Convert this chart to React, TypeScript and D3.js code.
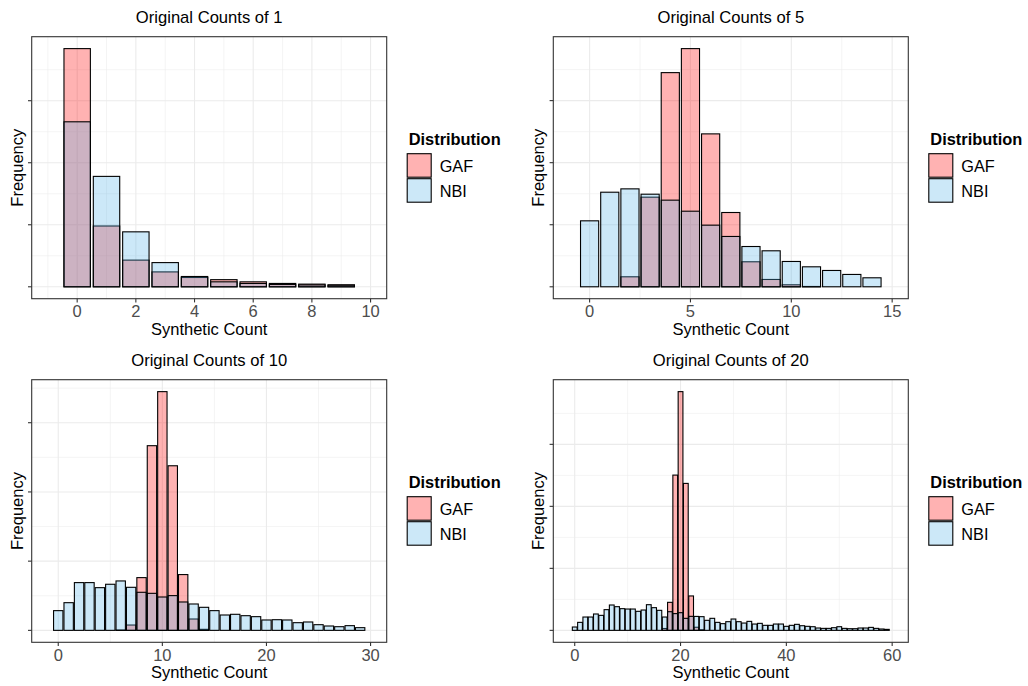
import React from "react";
import * as d3 from "d3";

// ---- Data (heights in units of one major y-tick) ----
const titles = ["Original Counts of 1", "Original Counts of 5", "Original Counts of 10", "Original Counts of 20"];
const seriesNames = ["GAF", "NBI"];

const gaf1 = [3.84, 0.98, 0.43, 0.24, 0.15, 0.115, 0.08, 0.054, 0.043, 0.032];
const nbi1 = [2.66, 1.78, 0.886, 0.39, 0.166, 0.08, 0.054, 0.038, 0.03, 0.025];

const gaf5 = [0, 0, 0.161, 1.444, 3.451, 3.838, 2.464, 1.197, 0.403, 0.118, 0.032, 0.005, 0, 0, 0];
const nbi5 = [1.063, 1.524, 1.578, 1.492, 1.396, 1.218, 0.993, 0.811, 0.649, 0.58, 0.408, 0.322, 0.263, 0.199, 0.145];

const gaf10 = [0, 0, 0, 0, 0, 0, 0.005, 0.077, 0.762, 2.668, 3.449, 2.378, 0.806, 0.164, 0.015,
  0, 0, 0, 0, 0, 0, 0, 0, 0, 0, 0, 0, 0, 0, 0];
const nbi10 = [0.285, 0.4, 0.69, 0.69, 0.617, 0.666, 0.714, 0.622, 0.55, 0.535, 0.482, 0.502, 0.41, 0.381, 0.333,
  0.285, 0.222, 0.232, 0.212, 0.198, 0.15, 0.154, 0.15, 0.111, 0.121, 0.082, 0.063, 0.053, 0.068, 0.039];

const gaf20 = [0, 0, 0, 0, 0, 0, 0, 0, 0, 0, 0, 0, 0, 0, 0, 0, 0, 0.03, 0.452, 2.504, 3.85, 2.37, 0.555, 0.05, 0.01,
  0, 0, 0, 0, 0, 0, 0, 0, 0, 0, 0, 0, 0, 0, 0, 0, 0, 0, 0, 0, 0, 0, 0, 0, 0, 0, 0, 0, 0, 0, 0, 0, 0, 0, 0];
const nbi20 = [0.054, 0.129, 0.215, 0.215, 0.264, 0.242, 0.334, 0.409, 0.382, 0.35,
  0.344, 0.344, 0.307, 0.328, 0.414, 0.366, 0.323, 0.215, 0.301, 0.27,
  0.285, 0.194, 0.226, 0.225, 0.221, 0.162, 0.194, 0.129, 0.108, 0.14,
  0.183, 0.14, 0.118, 0.145, 0.102, 0.113, 0.081, 0.081, 0.102, 0.102,
  0.065, 0.081, 0.097, 0.075, 0.065, 0.059, 0.038, 0.032, 0.032, 0.043,
  0.059, 0.032, 0.027, 0.027, 0.038, 0.038, 0.048, 0.032, 0.022, 0.016];

const xMajor1 = [0, 2, 4, 6, 8, 10];
const xMinor1 = [-1, 1, 3, 5, 7, 9];
const xMajor5 = [0, 5, 10, 15];
const xMinor5 = [2.5, 7.5, 12.5];
const xMajor10 = [0, 10, 20, 30];
const xMinor10 = [5, 15, 25];
const xMajor20 = [0, 20, 40, 60];
const xMinor20 = [10, 30, 50];
const yMajor = [0, 1, 2, 3];
const yMinor = [0.5, 1.5, 2.5, 3.5];

const GAF_FILL = "rgba(255,0,0,0.3)";
const NBI_FILL = "rgba(86,180,233,0.3)";
const FONT = "'Liberation Sans', Arial, sans-serif";

type PanelProps = {
  x0: number; x1: number; y0: number; y1: number;
  title: string; gaf: number[]; nbi: number[];
  xMajor: number[]; xMinor: number[];
};

function Panel({ x0, x1, y0, y1, title, gaf, nbi, xMajor, xMinor }: PanelProps) {
  const n = gaf.length;
  const lo = -1, hi = n;
  const pad = (hi - lo) * 0.05;
  const x = d3.scaleLinear().domain([lo - pad, hi + pad]).range([x0, x1]);
  const ymax = d3.max([...gaf, ...nbi]) as number;
  const y = d3.scaleLinear().domain([-0.05 * ymax, 1.05 * ymax]).range([y1, y0]);
  const bw = 0.9;
  const yIn = (v: number) => v >= y.domain()[0] && v <= y.domain()[1];
  const cx = (x0 + x1) / 2;
  const cy = (y0 + y1) / 2;
  const lx = x1 + 20;
  return (
    <g>
      <rect x={x0} y={y0} width={x1 - x0} height={y1 - y0} fill="#fff" />
      {xMinor.map((v) => (
        <line key={"xm" + v} x1={x(v)} x2={x(v)} y1={y0} y2={y1} stroke="#EBEBEB" strokeWidth={0.55} />
      ))}
      {yMinor.filter(yIn).map((v) => (
        <line key={"ym" + v} x1={x0} x2={x1} y1={y(v)} y2={y(v)} stroke="#EBEBEB" strokeWidth={0.55} />
      ))}
      {xMajor.map((v) => (
        <line key={"xM" + v} x1={x(v)} x2={x(v)} y1={y0} y2={y1} stroke="#EBEBEB" strokeWidth={1.1} />
      ))}
      {yMajor.filter(yIn).map((v) => (
        <line key={"yM" + v} x1={x0} x2={x1} y1={y(v)} y2={y(v)} stroke="#EBEBEB" strokeWidth={1.1} />
      ))}
      {gaf.map((v, i) => v > 0 ? (
        <rect key={"g" + i} x={x(i - bw / 2)} y={y(v)} width={x(i + bw / 2) - x(i - bw / 2)}
          height={y(0) - y(v)} fill={GAF_FILL} stroke="#000" strokeWidth={1.1} />
      ) : null)}
      {nbi.map((v, i) => v > 0 ? (
        <rect key={"n" + i} x={x(i - bw / 2)} y={y(v)} width={x(i + bw / 2) - x(i - bw / 2)}
          height={y(0) - y(v)} fill={NBI_FILL} stroke="#000" strokeWidth={1.1} />
      ) : null)}
      <rect x={x0} y={y0} width={x1 - x0} height={y1 - y0} fill="none" stroke="#333" strokeWidth={1.1} />
      {yMajor.filter(yIn).map((v) => (
        <line key={"yt" + v} x1={x0 - 3.7} x2={x0} y1={y(v)} y2={y(v)} stroke="#333" strokeWidth={1.1} />
      ))}
      {xMajor.map((v) => (
        <g key={"xt" + v}>
          <line x1={x(v)} x2={x(v)} y1={y1} y2={y1 + 3.7} stroke="#333" strokeWidth={1.1} />
          <text x={x(v)} y={y1 + 18.5} textAnchor="middle" fontSize={16.5} fill="#4D4D4D" fontFamily={FONT}>{v}</text>
        </g>
      ))}
      <text x={cx} y={y0 - 14} textAnchor="middle" fontSize={16.6} fill="#000" fontFamily={FONT}>{title}</text>
      <text x={cx} y={y1 + 36} textAnchor="middle" fontSize={16.5} fill="#000" fontFamily={FONT}>Synthetic Count</text>
      <text transform={`translate(${x0 - 9},${cy}) rotate(-90)`} textAnchor="middle" fontSize={16.5} fill="#000" fontFamily={FONT}>Frequency</text>
      <text x={lx + 2} y={y0 + 108} fontSize={16.4} fontWeight="bold" fill="#000" fontFamily={FONT}>Distribution</text>
      {seriesNames.map((s, i) => (
        <g key={s}>
          <rect x={lx} y={y0 + 116.5 + i * 25} width={25} height={24.5} fill="#fff" />
          <rect x={lx + 0.5} y={y0 + 117 + i * 25} width={24} height={23.5}
            fill={i === 0 ? GAF_FILL : NBI_FILL} stroke="#000" strokeWidth={1.1} />
          <text x={lx + 33} y={y0 + 135 + i * 25} fontSize={16.3} fill="#000" fontFamily={FONT}>{s}</text>
        </g>
      ))}
    </g>
  );
}

export default function App() {
  const L = [31.7, 386.7];
  const R = [553.3, 908.3];
  const T = [36.7, 298.7];
  const B = [379.7, 642.3];
  return (
    <svg width={1028} height={686} style={{ position: "absolute", left: 0, top: 0, background: "#fff" }}>
      <rect width={1028} height={686} fill="#fff" />
      <Panel x0={L[0]} x1={L[1]} y0={T[0]} y1={T[1]} title={titles[0]} gaf={gaf1} nbi={nbi1} xMajor={xMajor1} xMinor={xMinor1} />
      <Panel x0={R[0]} x1={R[1]} y0={T[0]} y1={T[1]} title={titles[1]} gaf={gaf5} nbi={nbi5} xMajor={xMajor5} xMinor={xMinor5} />
      <Panel x0={L[0]} x1={L[1]} y0={B[0]} y1={B[1]} title={titles[2]} gaf={gaf10} nbi={nbi10} xMajor={xMajor10} xMinor={xMinor10} />
      <Panel x0={R[0]} x1={R[1]} y0={B[0]} y1={B[1]} title={titles[3]} gaf={gaf20} nbi={nbi20} xMajor={xMajor20} xMinor={xMinor20} />
    </svg>
  );
}
